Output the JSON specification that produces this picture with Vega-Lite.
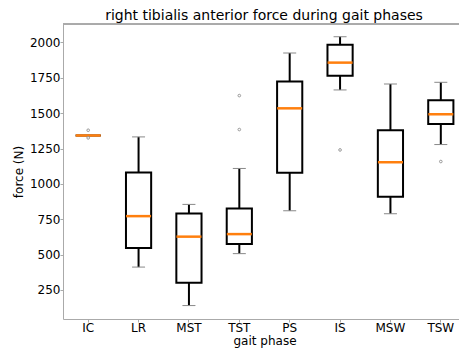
{
  "$schema": "https://vega.github.io/schema/vega-lite/v6.json",
  "autosize": "none",
  "width": 396,
  "height": 295,
  "padding": {"left": 63, "top": 24, "right": 0, "bottom": 32},
  "background": "white",
  "config": {
    "view": {"stroke": null},
    "font": "DejaVu Sans",
    "axis": {"grid": false, "domainColor": "#aaaaaa", "tickColor": "#aaaaaa", "tickSize": 3, "labelFont": "DejaVu Sans", "labelFontSize": 12, "labelColor": "#000000", "titleFont": "DejaVu Sans", "titleFontSize": 12, "titleFontWeight": "normal", "titleColor": "#000000"}
  },
  "title": {"text": "right tibialis anterior force during gait phases", "font": "DejaVu Sans", "fontSize": 14, "fontWeight": "normal", "color": "#000000", "offset": 1, "dx": 3},
  "datasets": {
    "boxes": [
      {"phase": "IC", "lo": 1342, "q1": 1342, "med": 1342, "q3": 1342, "hi": 1342},
      {"phase": "LR", "lo": 412, "q1": 546, "med": 772, "q3": 1080, "hi": 1332},
      {"phase": "MST", "lo": 140, "q1": 302, "med": 627, "q3": 791, "hi": 855},
      {"phase": "TST", "lo": 507, "q1": 575, "med": 645, "q3": 826, "hi": 1109},
      {"phase": "PS", "lo": 810, "q1": 1078, "med": 1534, "q3": 1723, "hi": 1925},
      {"phase": "IS", "lo": 1664, "q1": 1765, "med": 1857, "q3": 1984, "hi": 2040},
      {"phase": "MSW", "lo": 789, "q1": 909, "med": 1153, "q3": 1379, "hi": 1706},
      {"phase": "TSW", "lo": 1278, "q1": 1424, "med": 1492, "q3": 1591, "hi": 1718}
    ],
    "outliers": [
      {"phase": "IC", "force": 1379},
      {"phase": "IC", "force": 1325},
      {"phase": "TST", "force": 1624},
      {"phase": "TST", "force": 1384},
      {"phase": "IS", "force": 1240},
      {"phase": "TSW", "force": 1158}
    ]
  },
  "encoding": {
    "x": {"field": "phase", "type": "nominal", "sort": ["IC", "LR", "MST", "TST", "PS", "IS", "MSW", "TSW"],
      "scale": {"domain": ["IC", "LR", "MST", "TST", "PS", "IS", "MSW", "TSW"], "range": [0, 403], "paddingInner": 0, "paddingOuter": 0},
      "axis": {"title": "gait phase", "labelAngle": 0, "labelPadding": 0, "titlePadding": 2}}
  },
  "layer": [
    {
      "data": {"name": "boxes"},
      "mark": {"type": "rule", "color": "#aaaaaa", "strokeWidth": 1},
      "encoding": {"x": null, "y": {"datum": 2130, "type": "quantitative"}}
    },
    {
      "data": {"name": "boxes"},
      "mark": {"type": "rule", "color": "#000000", "strokeWidth": 2},
      "encoding": {
        "y": {"field": "lo", "type": "quantitative", "scale": {"domain": [45, 2130], "nice": false, "zero": false},
          "axis": {"title": "force (N)", "format": "d", "values": [250, 500, 750, 1000, 1250, 1500, 1750, 2000], "labelPadding": 0, "titlePadding": 4}},
        "y2": {"field": "q1"}
      }
    },
    {
      "data": {"name": "boxes"},
      "mark": {"type": "rule", "color": "#000000", "strokeWidth": 2},
      "encoding": {"y": {"field": "q3", "type": "quantitative"}, "y2": {"field": "hi"}}
    },
    {
      "data": {"name": "boxes"},
      "mark": {"type": "tick", "orient": "horizontal", "size": 13, "thickness": 1, "color": "#888888", "opacity": 1},
      "encoding": {"y": {"field": "lo", "type": "quantitative"}}
    },
    {
      "data": {"name": "boxes"},
      "mark": {"type": "tick", "orient": "horizontal", "size": 13, "thickness": 1, "color": "#888888", "opacity": 1},
      "encoding": {"y": {"field": "hi", "type": "quantitative"}}
    },
    {
      "data": {"name": "boxes"},
      "mark": {"type": "bar", "width": {"band": 0.5}, "fill": "white", "fillOpacity": 0, "stroke": "#000000", "strokeWidth": 2},
      "encoding": {"y": {"field": "q1", "type": "quantitative"}, "y2": {"field": "q3"}}
    },
    {
      "data": {"name": "boxes"},
      "mark": {"type": "tick", "orient": "horizontal", "size": 25, "thickness": 2.5, "color": "#ff7f0e", "opacity": 1},
      "encoding": {"y": {"field": "med", "type": "quantitative"}}
    },
    {
      "data": {"name": "outliers"},
      "mark": {"type": "point", "shape": "circle", "size": 7, "filled": false, "stroke": "#999999", "strokeWidth": 1, "opacity": 1},
      "encoding": {"y": {"field": "force", "type": "quantitative"}}
    }
  ]
}
